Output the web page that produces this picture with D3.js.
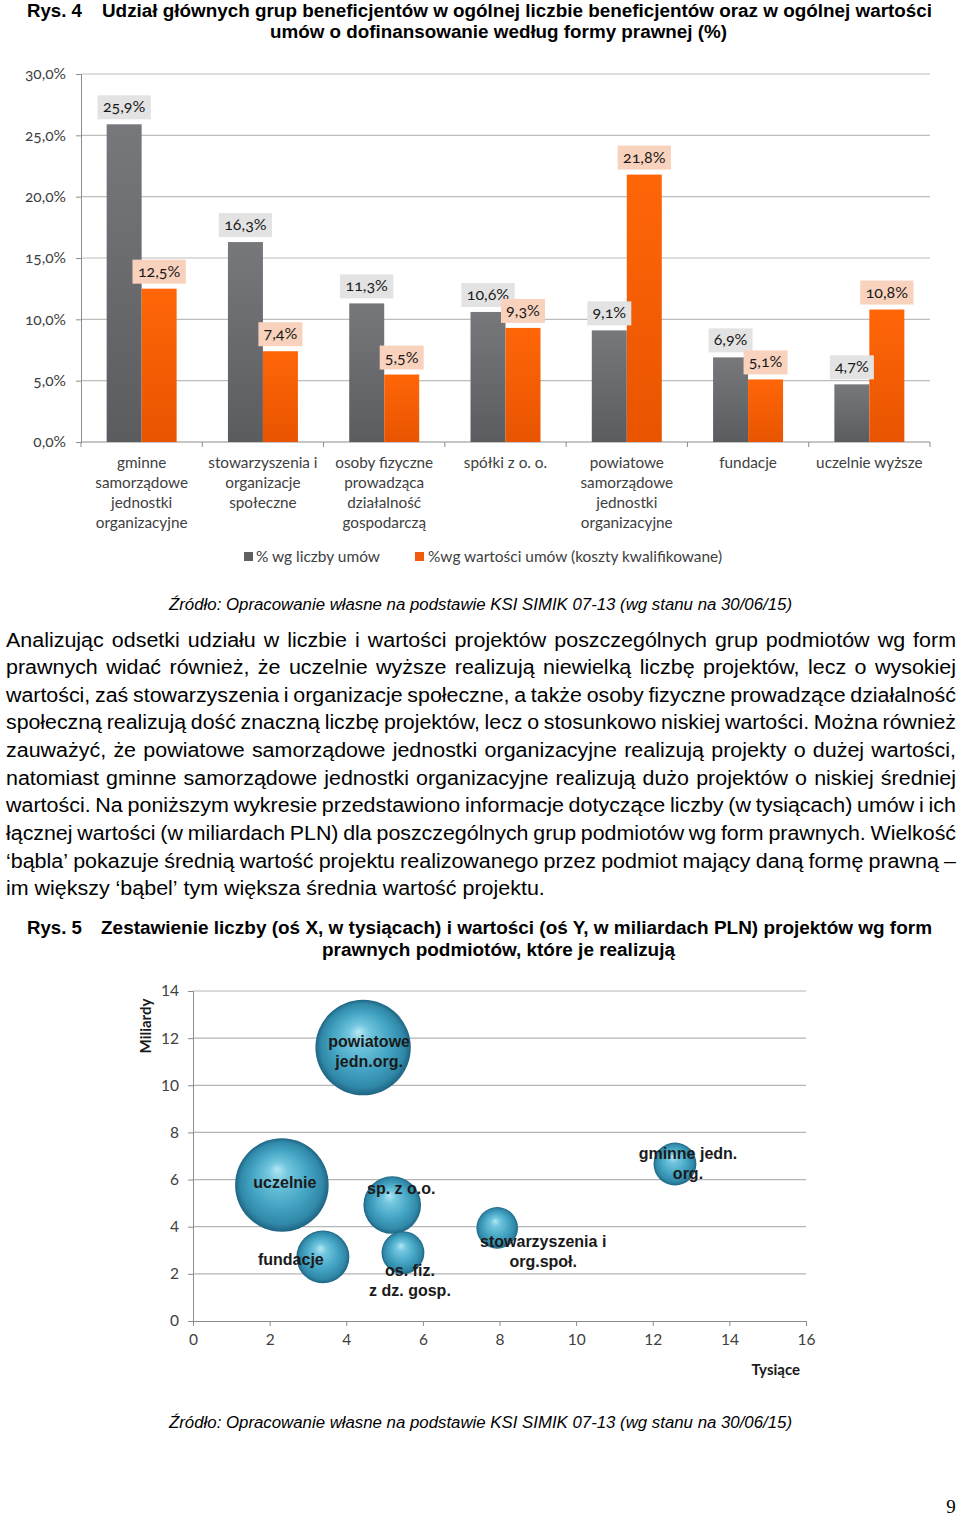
<!DOCTYPE html>
<html><head><meta charset="utf-8">
<script src="https://cdn.jsdelivr.net/npm/d3@7"></script>
<style>body{margin:0;background:#fff} svg{display:block}</style>
</head><body>
<svg id="c" width="960" height="1517"></svg>
<script>
// ---------------- DATA ----------------
const categories = ["gminne","stowarzyszenia","osoby","spolki","powiatowe","fundacje","uczelnie"];
const categoryLabels = [
  ["gminne","samorządowe","jednostki","organizacyjne"],
  ["stowarzyszenia i","organizacje","społeczne"],
  ["osoby fizyczne","prowadząca","działalność","gospodarczą"],
  ["spółki z o. o."],
  ["powiatowe","samorządowe","jednostki","organizacyjne"],
  ["fundacje"],
  ["uczelnie wyższe"]
];
const shareCount = [25.9, 16.3, 11.3, 10.6, 9.1, 6.9, 4.7];
const shareValue = [12.5, 7.4, 5.5, 9.3, 21.8, 5.1, 10.8];
const seriesNames = ["% wg liczby umów", "%wg wartości umów (koszty kwalifikowane)"];
const barTicks = [0, 5, 10, 15, 20, 25, 30];

const bubbleNames = [
  ["gminne jedn.","org."],
  ["stowarzyszenia i","org.społ."],
  ["os. fiz.","z dz. gosp."],
  ["sp. z o.o."],
  ["powiatowe","jedn.org."],
  ["fundacje"],
  ["uczelnie"]
];
const contractsK = [12.58, 7.94, 5.48, 5.20, 4.44, 3.39, 2.32];
const valueBn   = [6.66, 3.95, 2.90, 4.92, 11.60, 2.72, 5.77];
const avgValue  = [0.53, 0.50, 0.53, 0.96, 2.63, 0.81, 2.53];
const bubbleXTicks = [0,2,4,6,8,10,12,14,16];
const bubbleYTicks = [0,2,4,6,8,10,12,14];

const title1 = ["Rys. 4", "Udział głównych grup beneficjentów w ogólnej liczbie beneficjentów oraz w ogólnej wartości", "umów o dofinansowanie według formy prawnej (%)"];
const title2 = ["Rys. 5", "Zestawienie liczby (oś X, w tysiącach) i wartości (oś Y, w miliardach PLN) projektów wg form", "prawnych podmiotów, które je realizują"];
const sourceText = "Źródło: Opracowanie własne na podstawie KSI SIMIK 07-13 (wg stanu na 30/06/15)";
const bodyLines = [
  "Analizując odsetki udziału w liczbie i wartości projektów poszczególnych grup podmiotów wg form",
  "prawnych widać również, że uczelnie wyższe realizują niewielką liczbę projektów, lecz o wysokiej",
  "wartości, zaś stowarzyszenia i organizacje społeczne, a także osoby fizyczne prowadzące działalność",
  "społeczną realizują dość znaczną liczbę projektów, lecz o stosunkowo niskiej wartości. Można również",
  "zauważyć, że powiatowe samorządowe jednostki organizacyjne realizują projekty o dużej wartości,",
  "natomiast gminne samorządowe jednostki organizacyjne realizują dużo projektów o niskiej średniej",
  "wartości. Na poniższym wykresie przedstawiono informacje dotyczące liczby (w tysiącach) umów i ich",
  "łącznej wartości (w miliardach PLN) dla poszczególnych grup podmiotów wg form prawnych. Wielkość",
  "‘bąbla’ pokazuje średnią wartość projektu realizowanego przez podmiot mający daną formę prawną –",
  "im większy ‘bąbel’ tym większa średnia wartość projektu."
];

// ---------------- DRAW ----------------
const svg = d3.select("#c");
const defs = svg.append("defs");
const ARIAL = "'Liberation Sans', Arial, sans-serif";
const CAL = "Lato, 'Open Sans', sans-serif";

// gradients
const gG = defs.append("linearGradient").attr("id","gGrey").attr("x1",0).attr("x2",0).attr("y1",0).attr("y2",1);
gG.append("stop").attr("offset","0%").attr("stop-color","#77787b");
gG.append("stop").attr("offset","100%").attr("stop-color","#5b5c5f");
const gO = defs.append("linearGradient").attr("id","gOrange").attr("x1",0).attr("x2",0).attr("y1",0).attr("y2",1);
gO.append("stop").attr("offset","0%").attr("stop-color","#ff6608");
gO.append("stop").attr("offset","100%").attr("stop-color","#e85400");
const gB = defs.append("radialGradient").attr("id","gBub").attr("cx","50%").attr("cy","50%").attr("r","50%").attr("fx","45%").attr("fy","33%");
gB.append("stop").attr("offset","0%").attr("stop-color","#b4e7f4");
gB.append("stop").attr("offset","22%").attr("stop-color","#72c6de");
gB.append("stop").attr("offset","60%").attr("stop-color","#45a5c4");
gB.append("stop").attr("offset","88%").attr("stop-color","#3088a8");
gB.append("stop").attr("offset","100%").attr("stop-color","#1f6483");

function measure(txt, font, size, weight, style) {
  const t = svg.append("text").attr("font-family", font).attr("font-size", size)
    .attr("font-weight", weight||"normal").attr("font-style", style||"normal").text(txt);
  const w = t.node().getComputedTextLength(); t.remove(); return w;
}
function fitText(txt, x, y, width, font, size, weight, style) {
  return svg.append("text").attr("x", x).attr("y", y).attr("font-family", font).attr("font-size", size)
    .attr("font-weight", weight||"normal").attr("font-style", style||"normal")
    .attr("textLength", width).attr("lengthAdjust","spacingAndGlyphs").attr("fill","#000").text(txt);
}

// Titles
fitText(title1[0], 27, 17, 55, ARIAL, 17.5, "bold");
fitText(title1[1], 102, 17, 830, ARIAL, 17.5, "bold");
fitText(title1[2], 270, 38, 457, ARIAL, 17.5, "bold");
fitText(title2[0], 27, 934, 55, ARIAL, 17.5, "bold");
fitText(title2[1], 101, 934, 831, ARIAL, 17.5, "bold");
fitText(title2[2], 322, 956, 353, ARIAL, 17.5, "bold");

// Sources
fitText(sourceText, 169, 610, 623, ARIAL, 16, "normal", "italic");
fitText(sourceText, 169, 1428, 623, ARIAL, 16, "normal", "italic");

// Body text, justified
(function(){
  const left = 6, right = 956, size = 19.5, baseSx = 1.1;
  bodyLines.forEach((line, i) => {
    const y = 646.5 + i * 27.65;
    const words = line.split(" ");
    const ws = words.map(w => measure(w, ARIAL, size));
    const space = (measure("a a", ARIAL, size) - measure("aa", ARIAL, size)) * baseSx;
    const total = d3.sum(ws);
    const last = i === bodyLines.length - 1;
    let sx = baseSx;
    let gap = last ? space : (right - left - total*sx) / (words.length - 1);
    if (!last && gap < space * 0.8) { gap = space * 0.8; sx = (right - left - gap*(words.length-1)) / total; }
    const t = svg.append("text").attr("font-family", ARIAL).attr("font-size", size).attr("fill","#000");
    let x = left;
    words.forEach((w, j) => {
      t.append("tspan").attr("x", x).attr("y", y).text(w)
        .attr("textLength", ws[j]*sx).attr("lengthAdjust","spacingAndGlyphs");
      x += ws[j]*sx + gap;
    });
  });
})();

// -------- Bar chart --------
const x0 = d3.scaleBand().domain(categories).range([81, 930]).paddingInner(0).paddingOuter(0);
const x1 = d3.scaleBand().domain([0,1]).range([0, x0.bandwidth()]).paddingInner(0).paddingOuter(0.733);
const yB = d3.scaleLinear().domain([0, 30]).range([442, 74]);

const bar = svg.append("g");
bar.append("g").selectAll("line").data(barTicks.filter(d => d > 0)).join("line")
  .attr("x1", 81).attr("x2", 930).attr("y1", d => yB(d)).attr("y2", d => yB(d))
  .attr("stroke", "#bdbdbd").attr("stroke-width", 1.2);
const yAxisB = d3.axisLeft(yB).tickValues(barTicks).tickSize(5).tickPadding(10)
  .tickFormat(d => d3.format(".1f")(d).replace(".", ",") + "%");
const ya = bar.append("g").attr("transform","translate(81,0)").call(yAxisB);
ya.select(".domain").attr("stroke","#8c8c8c");
ya.selectAll(".tick line").attr("stroke","#8c8c8c");
ya.selectAll(".tick text").attr("font-family", CAL).attr("font-size", 15.5).attr("fill","#404040")
  .style("font-variant-numeric","oldstyle-nums");
const xa = bar.append("g").attr("transform","translate(0,442)");
xa.append("line").attr("x1",81).attr("x2",930).attr("stroke","#8c8c8c");
xa.selectAll("line.tk").data(d3.range(categories.length + 1)).join("line").attr("class","tk")
  .attr("x1", i => 81 + i * x0.step()).attr("x2", i => 81 + i * x0.step())
  .attr("y1", 0).attr("y2", 5).attr("stroke","#8c8c8c");

const series = [shareCount, shareValue];
const fills = ["url(#gGrey)", "url(#gOrange)"];
series.forEach((vals, s) => {
  bar.append("g").selectAll("rect").data(vals).join("rect")
    .attr("x", (d,i) => x0(categories[i]) + x1(s))
    .attr("width", x1.bandwidth())
    .attr("y", d => yB(d)).attr("height", d => yB(0) - yB(d))
    .attr("fill", fills[s]);
});
const boxFill = ["#e3e3e3", "#f9d2bd"];
series.forEach((vals, s) => {
  const g = bar.append("g");
  vals.forEach((d, i) => {
    const txt = d3.format(".1f")(d).replace(".", ",") + "%";
    const cx = x0(categories[i]) + x1(s) + x1.bandwidth()/2;
    const w = measure(txt, CAL, 16) + 9;
    const yb = yB(d) - 5;
    g.append("rect").attr("x", cx - w/2).attr("y", yb - 24).attr("width", w).attr("height", 24).attr("fill", boxFill[s]);
    g.append("text").attr("x", cx).attr("y", yb - 7).attr("text-anchor","middle")
      .attr("font-family", CAL).attr("font-size", 16).attr("fill","#1a1a1a")
      .style("font-variant-numeric","oldstyle-nums").text(txt);
  });
});
categoryLabels.forEach((lines, i) => {
  const cx = x0(categories[i]) + x0.bandwidth()/2;
  const t = bar.append("text").attr("text-anchor","middle").attr("font-family", CAL)
    .attr("font-size", 15.3).attr("fill","#404040");
  lines.forEach((l, k) => t.append("tspan").attr("x", cx).attr("y", 468 + k*20).text(l));
});
const leg = bar.append("g");
leg.append("rect").attr("x",244).attr("y",552).attr("width",9).attr("height",9).attr("fill","#5f6062");
leg.append("text").attr("x",256).attr("y",562).attr("font-family",CAL).attr("font-size",15).attr("fill","#404040")
  .attr("textLength",124).attr("lengthAdjust","spacingAndGlyphs").text(seriesNames[0]);
leg.append("rect").attr("x",415).attr("y",552).attr("width",9).attr("height",9).attr("fill","#f15a0a");
leg.append("text").attr("x",428).attr("y",562).attr("font-family",CAL).attr("font-size",15).attr("fill","#404040")
  .attr("textLength",294).attr("lengthAdjust","spacingAndGlyphs").text(seriesNames[1]);

// -------- Bubble chart --------
const xS = d3.scaleLinear().domain([0,16]).range([193, 806]);
const yS = d3.scaleLinear().domain([0,14]).range([1321, 991]);
const rS = d3.scaleSqrt().domain([0, d3.max(avgValue)]).range([0, 47.7]);
const bub = svg.append("g");
bub.append("g").selectAll("line").data(bubbleYTicks.filter(d => d > 0)).join("line")
  .attr("x1", 193).attr("x2", 806).attr("y1", d => yS(d)).attr("y2", d => yS(d))
  .attr("stroke","#b5b5b5").attr("stroke-width",1.2);
const yAxS = bub.append("g").attr("transform","translate(193,0)")
  .call(d3.axisLeft(yS).tickValues(bubbleYTicks).tickSize(5).tickPadding(9));
const xAxS = bub.append("g").attr("transform","translate(0,1321)")
  .call(d3.axisBottom(xS).tickValues(bubbleXTicks).tickSize(5).tickPadding(8));
[yAxS, xAxS].forEach(a => {
  a.select(".domain").attr("stroke","#8c8c8c");
  a.selectAll(".tick line").attr("stroke","#8c8c8c");
  a.selectAll(".tick text").attr("font-family", CAL).attr("font-size", 15.5).attr("fill","#404040");
});
bub.append("text").attr("transform","translate(151,1026) rotate(-90)").attr("text-anchor","middle")
  .attr("font-family", CAL).attr("font-size", 15).attr("font-weight","bold").attr("fill","#1a1a1a").text("Miliardy");
bub.append("text").attr("x", 800).attr("y", 1375).attr("text-anchor","end")
  .attr("font-family", CAL).attr("font-size", 15).attr("font-weight","bold").attr("fill","#1a1a1a").text("Tysiące");

const idx = d3.range(contractsK.length).sort((a,b) => avgValue[b] - avgValue[a]);
bub.append("g").selectAll("circle").data(idx).join("circle")
  .attr("cx", i => xS(contractsK[i])).attr("cy", i => yS(valueBn[i])).attr("r", i => rS(avgValue[i]))
  .attr("fill","url(#gBub)");
const labelOffset = [[13,-11],[46,13],[7,17],[9,-17],[6,-7],[-32,2],[3,-3]];
bubbleNames.forEach((lines, i) => {
  const cx = xS(contractsK[i]) + labelOffset[i][0];
  const cy = yS(valueBn[i]) + labelOffset[i][1];
  const t = bub.append("text").attr("text-anchor","middle").attr("font-family", ARIAL)
    .attr("font-size", 16).attr("font-weight","bold").attr("fill","#1a1a1a");
  lines.forEach((l, k) => t.append("tspan").attr("x", cx).attr("y", cy + k*20 + 6).text(l));
});

// page number
svg.append("text").attr("x", 951).attr("y", 1513).attr("text-anchor","middle")
  .attr("font-family","'Liberation Serif', 'DejaVu Serif', serif").attr("font-size", 19).attr("fill","#000").text("9");
</script>
</body></html>
